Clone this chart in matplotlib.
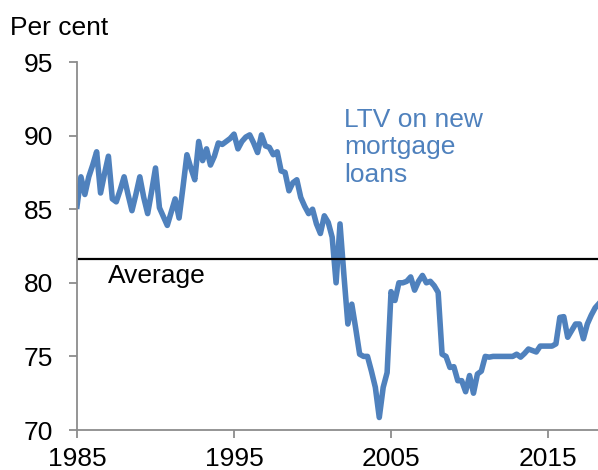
import matplotlib

matplotlib.use('Agg')
import matplotlib.pyplot as plt
import numpy as np

plt.rcParams['font.family'] = ['Liberation Sans', 'DejaVu Sans']

# quarterly LTV on new mortgage loans, per cent (1985 Q1 onwards)
start_year = 1985
ltv = [
    85.2, 87.2, 86.0, 87.2,   # 1985
    88.0, 88.9, 86.1, 87.4,   # 1986
    88.6, 85.7, 85.5, 86.3,   # 1987
    87.2, 86.0, 84.9, 86.0,   # 1988
    87.2, 85.8, 84.7, 86.2,   # 1989
    87.8, 85.1, 84.5, 83.9,   # 1990
    84.8, 85.7, 84.4, 86.5,   # 1991
    88.7, 87.8, 87.0, 89.6,   # 1992
    88.3, 89.1, 88.0, 88.6,   # 1993
    89.5, 89.4, 89.6, 89.8,   # 1994
    90.1, 89.1, 89.6, 89.9,   # 1995
    90.05, 89.5, 88.85, 90.05,  # 1996
    89.3, 89.2, 88.7, 88.9,   # 1997
    87.6, 87.5, 86.25, 86.8,  # 1998
    87.0, 85.8, 85.2, 84.7,   # 1999
    85.0, 84.0, 83.35, 84.55,  # 2000
    84.1, 83.1, 80.0, 84.0,   # 2001
    80.5, 77.2, 78.55, 76.9,  # 2002
    75.15, 75.0, 75.0, 74.0,  # 2003
    72.9, 70.85, 72.9, 73.9,  # 2004
    79.4, 78.8, 80.0, 80.0,   # 2005
    80.1, 80.4, 79.5, 80.1,   # 2006
    80.5, 80.0, 80.1, 79.8,   # 2007
    79.35, 75.15, 75.0, 74.25,  # 2008
    74.3, 73.35, 73.35, 72.6,  # 2009
    73.7, 72.5, 73.8, 74.0,   # 2010
    75.0, 74.95, 75.0, 75.0,  # 2011
    75.0, 75.0, 75.0, 75.0,   # 2012
    75.15, 74.95, 75.2, 75.5,  # 2013
    75.4, 75.3, 75.7, 75.7,   # 2014
    75.7, 75.7, 75.85, 77.65,  # 2015
    77.7, 76.3, 76.75, 77.2,  # 2016
    77.2, 76.2, 77.2, 77.8,   # 2017
    78.3, 78.6,               # 2018
]
average = 81.6
x_ticks = [1985, 1995, 2005, 2015]
y_ticks = [70, 75, 80, 85, 90, 95]

years = start_year + np.arange(len(ltv)) / 4.0

fig = plt.figure(figsize=(5.98, 4.70), dpi=100)
ax = fig.add_axes([77 / 598, 1 - 430 / 470, 1 - 77 / 598, (430 - 62) / 470])

blue = '#4F81BD'
ax.plot(years, ltv, color=blue, lw=4.0, solid_joinstyle='round')
ax.axhline(average, color='black', lw=1.6)

ax.set_xlim(1985, 2018.18)
ax.set_ylim(70, 95)
ax.set_xticks(x_ticks)
ax.set_yticks(y_ticks)

for side in ['top', 'right']:
    ax.spines[side].set_visible(False)
for side in ['left', 'bottom']:
    ax.spines[side].set_color('#8c8c8c')
    ax.spines[side].set_linewidth(1.3)
ax.tick_params(axis='both', colors='#8c8c8c', width=1.3, length=6,
               labelsize=19, labelcolor='black')
ax.tick_params(axis='y', pad=11)
ax.tick_params(axis='x', pad=6)

ax.text(1986.95, 80.0, 'Average', fontsize=19, color='black', va='baseline', ha='left')
ax.text(2002.0, 91.9, 'LTV on new\nmortgage\nloans', fontsize=19, color=blue,
        va='top', ha='left', linespacing=1.2)
fig.text(10 / 598, 1 - 35 / 470, 'Per cent', fontsize=19, ha='left', va='baseline')

fig.savefig('out.png', dpi=100)
